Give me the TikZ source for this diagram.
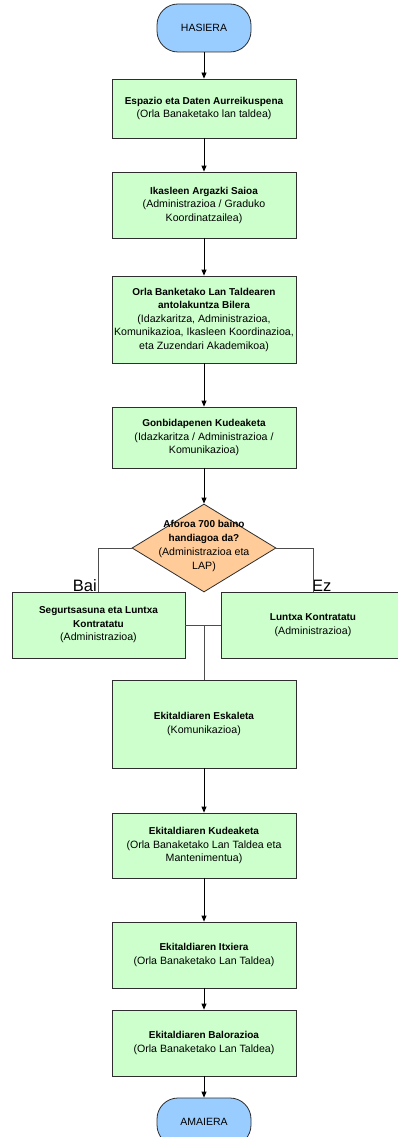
\documentclass[tikz,border=0pt]{standalone}
\usepackage{fontspec}
\setmainfont{Liberation Sans}
\usetikzlibrary{shapes.geometric,arrows.meta}

\definecolor{procgreen}{HTML}{CCFFCC}
\definecolor{termblue}{HTML}{99CCFF}
\definecolor{decorange}{HTML}{FFCC99}
\definecolor{edgegray}{HTML}{2E2E2E}

% title line (bold) and responsible-party line inside a box
\newcommand{\ftitle}[1]{{\fontsize{10}{13.5}\selectfont\bfseries #1}}
\newcommand{\fsub}[1]{{\fontsize{10.6}{13.5}\selectfont #1}}

\begin{document}
\begin{tikzpicture}[x=1pt,y=-1pt,
  proc/.style={draw=edgegray, line width=0.8pt, fill=procgreen,
    minimum width=184pt, align=center, inner xsep=1pt, inner ysep=1pt,
    font=\fontsize{10.6}{13.5}\selectfont},
  term/.style={draw=edgegray, line width=0.8pt, fill=termblue,
    rounded corners=21pt, minimum width=94pt, minimum height=48pt,
    inner sep=0pt, font=\fontsize{10.5}{13}\selectfont},
  decis/.style={diamond, draw=edgegray, line width=0.8pt, fill=decorange,
    minimum width=144pt, minimum height=88pt, inner sep=0pt, aspect=1.64},
  arr/.style={draw=black, line width=0.8pt, -{Triangle[length=6pt,width=5pt]}},
  ln/.style={draw=edgegray!85, line width=0.8pt},
  lbl/.style={inner sep=0pt, font=\fontsize{16.5}{18}\selectfont}
]
\clip (0,0) rectangle (398,1137);
\fill[white] (0,0) rectangle (398,1137);

% start / end
\node[term] (hs) at (204,28) {HASIERA};
\node[term] (am) at (204,1122) {AMAIERA};

% process boxes
\node[proc, minimum height=59pt] (b1) at (204,108.5)
  {\ftitle{Espazio eta Daten Aurreikuspena}\\ \fsub{(Orla Banaketako lan taldea)}};
\node[proc, minimum height=66pt] (b2) at (204,205)
  {\ftitle{Ikasleen Argazki Saioa}\\ \fsub{(Administrazioa / Graduko}\\ \fsub{Koordinatzailea)}};
\node[proc, minimum height=87pt] (b3) at (204,319.5)
  {\ftitle{Orla Banketako Lan Taldearen}\\ \ftitle{antolakuntza Bilera}\\
   \fsub{(Idazkaritza, Administrazioa,}\\ \fsub{Komunikazioa, Ikasleen Koordinazioa,}\\
   \fsub{eta Zuzendari Akademikoa)}};
\node[proc, minimum height=61pt] (b4) at (204,437.5)
  {\ftitle{Gonbidapenen Kudeaketa}\\ \fsub{(Idazkaritza / Administrazioa /}\\ \fsub{Komunikazioa)}};

% decision
\node[decis] (dec) at (204,548) {};
\node[align=center, inner sep=0pt, font=\fontsize{10.6}{14}\selectfont] (dectext) at (204,546)
  {\ftitle{Aforoa 700 baino}\\ \ftitle{handiagoa da?}\\ \fsub{(Administrazioa eta}\\ \fsub{LAP)}};

% branches
\node[proc, minimum width=173pt, minimum height=66pt] (b5) at (98.5,625)
  {\ftitle{Segurtsasuna eta Luntxa}\\ \ftitle{Kontratatu}\\ \fsub{(Administrazioa)}};
\node[proc, minimum width=184pt, minimum height=66pt] (b6) at (313,625)
  {\ftitle{Luntxa Kontratatu}\\ \fsub{(Administrazioa)}};

\node[proc, minimum height=88pt] (b7) at (204,724)
  {\ftitle{Ekitaldiaren Eskaleta}\\ \fsub{(Komunikazioa)}};
\node[proc, minimum height=65pt] (b8) at (204,845.5)
  {\ftitle{Ekitaldiaren Kudeaketa}\\ \fsub{(Orla Banaketako Lan Taldea eta}\\ \fsub{Mantenimentua)}};
\node[proc, minimum height=66pt] (b9) at (204,955)
  {\ftitle{Ekitaldiaren Itxiera}\\ \fsub{(Orla Banaketako Lan Taldea)}};
\node[proc, minimum height=66pt] (b10) at (204,1043)
  {\ftitle{Ekitaldiaren Balorazioa}\\ \fsub{(Orla Banaketako Lan Taldea)}};

% branch labels
\node[lbl, anchor=base east] (bai) at (97,591) {Bai};
\node[lbl, anchor=base west] (ez) at (312,591) {Ez};

% connectors
\draw[arr] (hs) -- (b1);
\draw[arr] (b1) -- (b2);
\draw[arr] (b2) -- (b3);
\draw[arr] (b3) -- (b4);
\draw[arr] (b4) -- (dec);
\draw[ln] (dec.west) -| (b5.north);
\draw[ln] (dec.east) -| (b6.north);
\draw[ln] (b5.east) -- (b6.west);
\draw[ln] (b5.east -| b7.north) -- (b7.north);
\draw[arr] (b7) -- (b8);
\draw[arr] (b8) -- (b9);
\draw[arr] (b9) -- (b10);
\draw[arr] (b10) -- (am);
\end{tikzpicture}
\end{document}
